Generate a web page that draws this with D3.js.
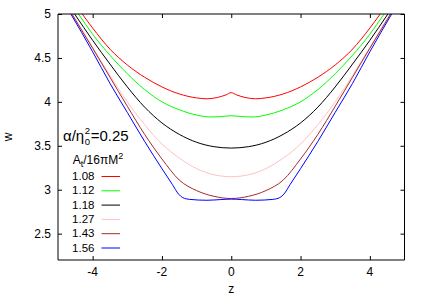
<!DOCTYPE html>
<html>
<head>
<meta charset="utf-8">
<script src="https://cdn.jsdelivr.net/npm/d3@7"></script>
<style>
  body { margin: 0; background: #fff; }
  text { font-family: "Liberation Sans", Arial, sans-serif; }
</style>
</head>
<body>
<svg id="chart" width="426" height="298"></svg>
<script>
// legend labels (A_t / 16 pi M^2) and line colours
var areaLabels = ["1.08", "1.12", "1.18", "1.27", "1.43", "1.56"];
var lineColors = ["#ff0000", "#00ff00", "#000000", "#ffc0c0", "#a52a2a", "#0000ff"];

// curves w(z)
var w108 = [[-4.3,5],[-4,4.84],[-3.5,4.6],[-3,4.42],[-2.5,4.28],[-2,4.17],[-1.5,4.09],[-1,4.045],[-0.7,4.035],[-0.4,4.05],[-0.15,4.08],[0,4.105],
            [0.15,4.08],[0.4,4.05],[0.7,4.035],[1,4.045],[1.5,4.09],[2,4.17],[2.5,4.28],[3,4.42],[3.5,4.6],[4,4.84],[4.3,5]];
var w112 = [[-4.41,5],[-4,4.77],[-3.5,4.53],[-3,4.32],[-2.5,4.14],[-2,4.0],[-1.5,3.91],[-1,3.85],[-0.6,3.828],[-0.3,3.832],[0,3.842],
            [0.3,3.832],[0.6,3.828],[1,3.85],[1.5,3.91],[2,4.0],[2.5,4.14],[3,4.32],[3.5,4.53],[4,4.77],[4.41,5]];
var w118 = [[-4.52,5],[-4,4.7],[-3.5,4.43],[-3,4.17],[-2.5,3.94],[-2,3.76],[-1.5,3.63],[-1,3.54],[-0.5,3.49],[0,3.474],
            [0.5,3.49],[1,3.54],[1.5,3.63],[2,3.76],[2.5,3.94],[3,4.17],[3.5,4.43],[4,4.7],[4.52,5]];
var w127 = [[-4.58,5],[-4,4.62],[-3.5,4.3],[-3,4.0],[-2.5,3.74],[-2,3.52],[-1.5,3.36],[-1,3.24],[-0.5,3.17],[0,3.148],
            [0.5,3.17],[1,3.24],[1.5,3.36],[2,3.52],[2.5,3.74],[3,4.0],[3.5,4.3],[4,4.62],[4.58,5]];
var w143 = [[-4.6,5],[-4,4.61],[-3.5,4.28],[-3,3.95],[-2.5,3.63],[-2,3.35],[-1.5,3.11],[-1,2.99],[-0.5,2.925],[0,2.9],
            [0.5,2.925],[1,2.99],[1.5,3.11],[2,3.35],[2.5,3.63],[3,3.95],[3.5,4.28],[4,4.61],[4.6,5]];
var w156 = [[-4.63,5],[-4,4.57],[-3.5,4.21],[-3,3.88],[-2.5,3.55],[-2,3.24],[-1.7,3.06],[-1.52,2.95],[-1.4,2.91],[-1.2,2.89],[-0.7,2.88],[-0.3,2.888],[0,2.893],
            [0.3,2.888],[0.7,2.88],[1.2,2.89],[1.4,2.91],[1.52,2.95],[1.7,3.06],[2,3.24],[2.5,3.55],[3,3.88],[3.5,4.21],[4,4.57],[4.63,5]];
var allSeries = [w108, w112, w118, w127, w143, w156];

var xTicks = [-4, -2, 0, 2, 4];
var yTicks = [2.5, 3, 3.5, 4, 4.5, 5];

const plotLeft = 58, plotRight = 404.5, plotTop = 14, plotBottom = 260;

var svg = d3.select("#chart");
var x = d3.scaleLinear().domain([-5, 5]).range([plotLeft, plotRight]);
var y = d3.scaleLinear().domain([2.2, 5]).range([plotBottom, plotTop]);

svg.append("clipPath").attr("id", "plotclip")
    .append("rect").attr("x", plotLeft).attr("y", plotTop)
    .attr("width", plotRight - plotLeft).attr("height", plotBottom - plotTop);

// ticks (inside), drawn with d3 axes
svg.append("g").attr("transform", `translate(0,${plotBottom})`)
    .call(d3.axisBottom(x).tickValues(xTicks).tickSize(-4).tickFormat(""));
svg.append("g").attr("transform", `translate(0,${plotTop})`)
    .call(d3.axisTop(x).tickValues(xTicks).tickSize(-4).tickFormat(""));
svg.append("g").attr("transform", `translate(${plotLeft},0)`)
    .call(d3.axisLeft(y).tickValues(yTicks).tickSize(-4).tickFormat(""));
svg.append("g").attr("transform", `translate(${plotRight},0)`)
    .call(d3.axisRight(y).tickValues(yTicks).tickSize(-4).tickFormat(""));
svg.selectAll(".domain").remove();
svg.selectAll(".tick line").attr("stroke", "#000").attr("stroke-width", 1);

// tick labels
svg.selectAll(".xlab").data(xTicks).enter().append("text")
    .attr("x", d => x(d)).attr("y", 276)
    .attr("text-anchor", "middle").attr("font-size", 12)
    .text(d => d);
svg.selectAll(".ylab").data(yTicks).enter().append("text")
    .attr("x", 51).attr("y", d => y(d) + 4.3)
    .attr("text-anchor", "end").attr("font-size", 12)
    .text(d => d);

// axis titles
svg.append("text").attr("x", x(0)).attr("y", 293)
    .attr("text-anchor", "middle").attr("font-size", 12).text("z");
svg.append("text").attr("transform", `translate(12,${(plotTop + plotBottom) / 2}) rotate(-90)`)
    .attr("text-anchor", "middle").attr("font-size", 12).text("w");

// curves
var line = d3.line().x(d => x(d[0])).y(d => y(d[1])).curve(d3.curveMonotoneX);
svg.append("g").attr("clip-path", "url(#plotclip)")
    .selectAll("path").data(allSeries).enter().append("path")
    .attr("d", line)
    .attr("fill", "none")
    .attr("stroke", (d, i) => lineColors[i])
    .attr("stroke-width", 1);

// frame
svg.append("path")
    .attr("d", `M${plotRight},${plotTop}H${plotLeft}V${plotBottom}H${plotRight}V${plotTop}`)
    .attr("fill", "none").attr("stroke", "#000").attr("stroke-width", 1);

// key title: alpha/eta_0^2 = 0.25 (sup and sub stacked)
var t1 = svg.append("text").attr("x", 63).attr("y", 141).attr("font-size", 15).text("α/η");
var etaEnd = 63 + t1.node().getComputedTextLength();
svg.append("text").attr("x", etaEnd + 0.5).attr("y", 134).attr("font-size", 9.5).text("2");
svg.append("text").attr("x", etaEnd + 0.5).attr("y", 145).attr("font-size", 9.5).text("0");
svg.append("text").attr("x", etaEnd + 6.5).attr("y", 141).attr("font-size", 15).text("=0.25");

var head = svg.append("text").attr("x", 72.7).attr("y", 163.5).attr("font-size", 12);
head.append("tspan").text("A");
head.append("tspan").attr("font-size", 9).attr("dy", 3).text("t");
head.append("tspan").attr("dy", -3).text("/16πM");
head.append("tspan").attr("font-size", 9).attr("dy", -5).text("2");

var key = svg.selectAll(".key").data(areaLabels).enter().append("g")
    .attr("transform", (d, i) => `translate(0,${176.5 + i * 14.3})`);
key.append("text").attr("x", 94.5).attr("y", 3.5)
    .attr("text-anchor", "end").attr("font-size", 11.5).text(d => d);
key.append("line").attr("x1", 101.5).attr("x2", 120).attr("y1", 0).attr("y2", 0)
    .attr("stroke", (d, i) => lineColors[i]).attr("stroke-width", 1);
</script>
</body>
</html>
